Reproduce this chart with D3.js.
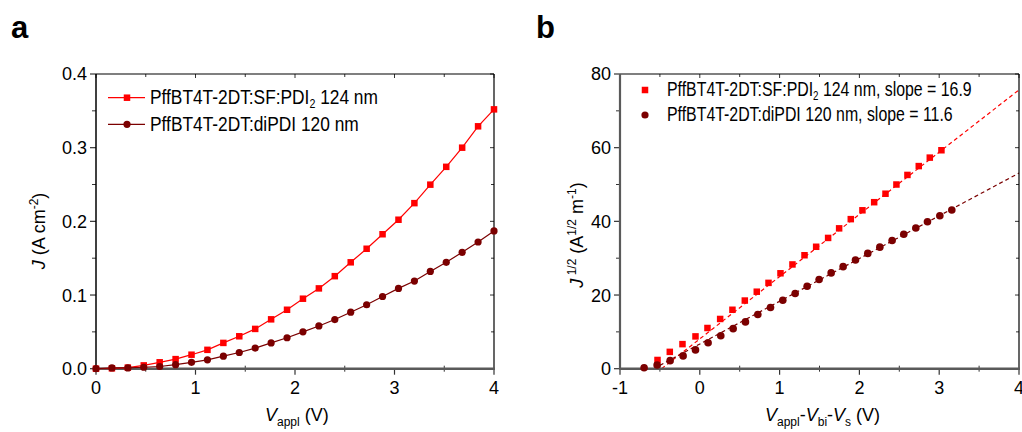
<!DOCTYPE html>
<html lang="en">
<head>
<meta charset="UTF-8">
<script src="https://d3js.org/d3.v7.min.js"></script>
<title>J-V curves</title>
<style>
  body { margin: 0; background: #fff; }
  text { font-family: "Liberation Sans", Arial, sans-serif; fill: #000; }
</style>
</head>
<body>
<script>
// ---- data ----
// panel a: J vs V_appl
var vAppl = [0, 0.16, 0.32, 0.48, 0.64, 0.8, 0.96, 1.12, 1.28, 1.44, 1.6, 1.76, 1.92,
             2.08, 2.24, 2.4, 2.56, 2.72, 2.88, 3.04, 3.2, 3.36, 3.52, 3.68, 3.84, 4.0];
var jSF = [0, 0.0005, 0.0015, 0.0045, 0.0087, 0.013, 0.019, 0.0256, 0.035, 0.044, 0.054,
           0.067, 0.080, 0.095, 0.109, 0.1256, 0.1444, 0.1628, 0.1825, 0.2022, 0.2247,
           0.2498, 0.274, 0.300, 0.329, 0.352];
var jDi = [0, 0.001, 0.001, 0.002, 0.003, 0.0055, 0.0087, 0.012, 0.017, 0.022, 0.028,
           0.035, 0.042, 0.050, 0.058, 0.0667, 0.0767, 0.0868, 0.098, 0.109, 0.119,
           0.132, 0.1444, 0.158, 0.172, 0.187];

// panel b: J^1/2 vs V_appl - V_bi - V_s
var vEffSF = [-0.53, -0.376, -0.217, -0.054, 0.096, 0.255, 0.409, 0.564, 0.714, 0.861,
              1.011, 1.161, 1.312, 1.458, 1.608, 1.746, 1.892, 2.038, 2.185, 2.327,
              2.464, 2.602, 2.744, 2.882, 3.028];
var sqrtJSF = [2.37, 4.57, 6.67, 8.77, 11.05, 13.5, 16.0, 18.5, 20.9, 23.3, 25.9, 28.3,
               30.8, 33.1, 35.5, 38.1, 40.6, 43.0, 45.2, 47.5, 50.0, 52.6, 55.0, 57.3, 59.3];
var vEffDi = [-0.698, -0.535, -0.372, -0.209, -0.054, 0.104, 0.263, 0.418, 0.572, 0.727,
              0.886, 1.040, 1.195, 1.345, 1.495, 1.646, 1.796, 1.951, 2.105, 2.256,
              2.410, 2.556, 2.707, 2.853, 3.008, 3.158];
var sqrtJDi = [0.27, 1.0, 2.19, 3.47, 5.11, 7.03, 8.95, 10.87, 12.7, 14.7, 16.6, 18.6,
               20.4, 22.4, 24.2, 26.0, 27.7, 29.5, 31.3, 33.0, 34.8, 36.5, 38.2, 39.9,
               41.5, 43.1];

// linear fits: slope and x-intercept
var fitSlope = [16.9, 11.6];
var fitX0 = [-0.479, -0.578];

var ticksAx = [0, 1, 2, 3, 4];
var ticksAy = [0, 0.1, 0.2, 0.3, 0.4];
var ticksBx = [-1, 0, 1, 2, 3, 4];
var ticksBy = [0, 20, 40, 60, 80];

var red = "#ff0000", dark = "#7b0000";

var svg = d3.select("body").append("svg").attr("width", 1022).attr("height", 432);

function frame(x, y, xt, yt, xMinor, yMinor, leftColor, yFmt) {
  var g = svg.append("g");
  var x0 = x.range()[0], x1 = x.range()[1], y0 = y.range()[0], y1 = y.range()[1];
  // minor ticks
  xMinor.forEach(function(v) {
    g.append("line").attr("x1", x(v)).attr("x2", x(v)).attr("y1", y0 - 3).attr("y2", y0 + 3)
      .attr("stroke", "#333").attr("stroke-width", 1);
    g.append("line").attr("x1", x(v)).attr("x2", x(v)).attr("y1", y1).attr("y2", y1 + 3)
      .attr("stroke", "#333").attr("stroke-width", 1);
  });
  yMinor.forEach(function(v) {
    g.append("line").attr("x1", x0 - 4).attr("x2", x0).attr("y1", y(v)).attr("y2", y(v))
      .attr("stroke", "#333").attr("stroke-width", 1);
    g.append("line").attr("x1", x1 - 3).attr("x2", x1).attr("y1", y(v)).attr("y2", y(v))
      .attr("stroke", "#333").attr("stroke-width", 1);
  });
  // major ticks + labels
  xt.forEach(function(v) {
    g.append("line").attr("x1", x(v)).attr("x2", x(v)).attr("y1", y0).attr("y2", y0 + 6)
      .attr("stroke", "#333").attr("stroke-width", 1.2);
    g.append("line").attr("x1", x(v)).attr("x2", x(v)).attr("y1", y1).attr("y2", y1 + 4)
      .attr("stroke", "#333").attr("stroke-width", 1);
    g.append("text").attr("x", x(v)).attr("y", y0 + 25).attr("text-anchor", "middle")
      .style("font-size", "18px").text(v);
  });
  yt.forEach(function(v) {
    g.append("line").attr("x1", x0 - 6).attr("x2", x0).attr("y1", y(v)).attr("y2", y(v))
      .attr("stroke", "#333").attr("stroke-width", 1.2);
    g.append("line").attr("x1", x1 - 4).attr("x2", x1).attr("y1", y(v)).attr("y2", y(v))
      .attr("stroke", "#333").attr("stroke-width", 1);
    g.append("text").attr("x", x0 - 9).attr("y", y(v)).attr("dy", "0.36em")
      .attr("text-anchor", "end").style("font-size", "18px").text(yFmt(v));
  });
  // box
  g.append("line").attr("x1", x0).attr("x2", x1).attr("y1", y1).attr("y2", y1)
    .attr("stroke", "#000").attr("stroke-width", 1.2);
  g.append("line").attr("x1", x1).attr("x2", x1).attr("y1", y1).attr("y2", y0)
    .attr("stroke", "#000").attr("stroke-width", 1.2);
  g.append("line").attr("x1", x0).attr("x2", x0).attr("y1", y1).attr("y2", y0)
    .attr("stroke", leftColor).attr("stroke-width", leftColor == "#000" ? 1.5 : 2.2);
  g.append("line").attr("x1", x0 - 1).attr("x2", x1 + 1).attr("y1", y0).attr("y2", y0)
    .attr("stroke", "#5a5a5a").attr("stroke-width", 2.4);
}

function square(sel, cx, cy, s, color) {
  sel.append("rect").attr("x", cx - s / 2).attr("y", cy - s / 2)
    .attr("width", s).attr("height", s).attr("fill", color);
}

// squeeze legend text horizontally to a given width
function legendText(x, y, width, parts) {
  var t = svg.append("text").attr("x", 0).attr("y", 0).style("font-size", "19.5px");
  parts.forEach(function(p) {
    if (p.sub) {
      t.append("tspan").attr("dy", 4).style("font-size", "12px").text(p.sub);
      t.append("tspan").attr("dy", -4).text(p.t || "");
    } else t.append("tspan").text(p.t);
  });
  var w = t.node().getComputedTextLength();
  t.attr("transform", "translate(" + x + "," + y + ") scale(" + (width / w) + ",1)");
}

// ================= panel a =================
var xa = d3.scaleLinear().domain([0, 4]).range([96, 494]);
var ya = d3.scaleLinear().domain([0, 0.4]).range([368.7, 74]);
frame(xa, ya, ticksAx, ticksAy, [0.5, 1.5, 2.5, 3.5], [0.05, 0.15, 0.25, 0.35], "#000",
      d3.format(".1f"));

var line = d3.line().x(function(d) { return xa(d[0]); }).y(function(d) { return ya(d[1]); });
var dataSF = vAppl.map(function(v, i) { return [v, jSF[i]]; });
var dataDi = vAppl.map(function(v, i) { return [v, jDi[i]]; });
svg.append("path").attr("d", line(dataSF)).attr("fill", "none").attr("stroke", red).attr("stroke-width", 1.2);
svg.append("path").attr("d", line(dataDi)).attr("fill", "none").attr("stroke", dark).attr("stroke-width", 1.2);
var ga = svg.append("g");
dataSF.forEach(function(d) { square(ga, xa(d[0]), ya(d[1]), 6.5, red); });
dataDi.forEach(function(d) {
  ga.append("circle").attr("cx", xa(d[0])).attr("cy", ya(d[1])).attr("r", 3.6).attr("fill", dark);
});

// legend a
svg.append("line").attr("x1", 108).attr("x2", 145).attr("y1", 97.7).attr("y2", 97.7).attr("stroke", red).attr("stroke-width", 1.2);
square(svg, 127, 97.7, 6.5, red);
svg.append("line").attr("x1", 108).attr("x2", 145).attr("y1", 124.3).attr("y2", 124.3).attr("stroke", dark).attr("stroke-width", 1.2);
svg.append("circle").attr("cx", 127).attr("cy", 124.3).attr("r", 3.6).attr("fill", dark);
legendText(150, 104, 228, [{t: "PffBT4T-2DT:SF:PDI"}, {sub: "2", t: " 124 nm"}]);
legendText(150, 131, 209, [{t: "PffBT4T-2DT:diPDI 120 nm"}]);

// axis titles a
var xta = svg.append("text").attr("x", 265).attr("y", 421).style("font-size", "18px");
xta.append("tspan").style("font-style", "italic").text("V");
xta.append("tspan").attr("dy", 5).style("font-size", "12px").text("appl");
xta.append("tspan").attr("dy", -5).text(" (V)");
var yta = svg.append("text").attr("transform", "translate(45,231) rotate(-90)")
  .attr("text-anchor", "middle").style("font-size", "18px");
yta.append("tspan").style("font-style", "italic").text("J");
yta.append("tspan").text(" (A cm");
yta.append("tspan").attr("dy", -7).style("font-size", "12px").text("-2");
yta.append("tspan").attr("dy", 7).text(")");

// ================= panel b =================
var xb = d3.scaleLinear().domain([-1, 4]).range([620, 1019]);
var yb = d3.scaleLinear().domain([0, 80]).range([368.7, 74]);

// fit lines (dashed), clipped to plot
svg.append("clipPath").attr("id", "clipb").append("rect")
  .attr("x", 620).attr("y", 74).attr("width", 399).attr("height", 294.7);
var gfit = svg.append("g").attr("clip-path", "url(#clipb)");
[red, dark].forEach(function(c, i) {
  var xs = [fitX0[i], 4];
  gfit.append("line").attr("x1", xb(xs[0])).attr("y1", yb(0))
    .attr("x2", xb(xs[1])).attr("y2", yb(fitSlope[i] * (xs[1] - fitX0[i])))
    .attr("stroke", c).attr("stroke-width", 1.2).attr("stroke-dasharray", "4,3");
});

frame(xb, yb, ticksBx, ticksBy, [-0.5, 0.5, 1.5, 2.5, 3.5], [10, 30, 50, 70], "#5a5a5a",
      d3.format("d"));

var gb = svg.append("g");
vEffSF.forEach(function(v, i) { square(gb, xb(v), yb(sqrtJSF[i]), 6.5, red); });
vEffDi.forEach(function(v, i) {
  gb.append("circle").attr("cx", xb(v)).attr("cy", yb(sqrtJDi[i])).attr("r", 3.8).attr("fill", dark);
});

// legend b
square(svg, 645, 90, 6.5, red);
svg.append("circle").attr("cx", 645).attr("cy", 115).attr("r", 3.6).attr("fill", dark);
legendText(667, 96, 305, [{t: "PffBT4T-2DT:SF:PDI"}, {sub: "2", t: " 124 nm, slope = 16.9"}]);
legendText(667, 121, 286, [{t: "PffBT4T-2DT:diPDI 120 nm, slope = 11.6"}]);

// axis titles b
var xtb = svg.append("text").attr("x", 765).attr("y", 421).style("font-size", "18px");
xtb.append("tspan").style("font-style", "italic").text("V");
xtb.append("tspan").attr("dy", 5).style("font-size", "12px").text("appl");
xtb.append("tspan").attr("dy", -5).text("-");
xtb.append("tspan").style("font-style", "italic").text("V");
xtb.append("tspan").attr("dy", 5).style("font-size", "12px").text("bi");
xtb.append("tspan").attr("dy", -5).text("-");
xtb.append("tspan").style("font-style", "italic").text("V");
xtb.append("tspan").attr("dy", 5).style("font-size", "12px").text("s");
xtb.append("tspan").attr("dy", -5).text(" (V)");
var ytb = svg.append("text").attr("transform", "translate(583,235) rotate(-90)")
  .attr("text-anchor", "middle").style("font-size", "18px");
ytb.append("tspan").style("font-style", "italic").text("J");
ytb.append("tspan").attr("dy", -7).style("font-size", "12px").text(" 1/2");
ytb.append("tspan").attr("dy", 7).text(" (A");
ytb.append("tspan").attr("dy", -7).style("font-size", "12px").text("1/2");
ytb.append("tspan").attr("dy", 7).text(" m");
ytb.append("tspan").attr("dy", -7).style("font-size", "12px").text("-1");
ytb.append("tspan").attr("dy", 7).text(")");

// panel letters
svg.append("text").attr("x", 11).attr("y", 38).style("font-size", "31px").style("font-weight", "bold").text("a");
svg.append("text").attr("x", 536).attr("y", 38).style("font-size", "31px").style("font-weight", "bold").text("b");
</script>
</body>
</html>
